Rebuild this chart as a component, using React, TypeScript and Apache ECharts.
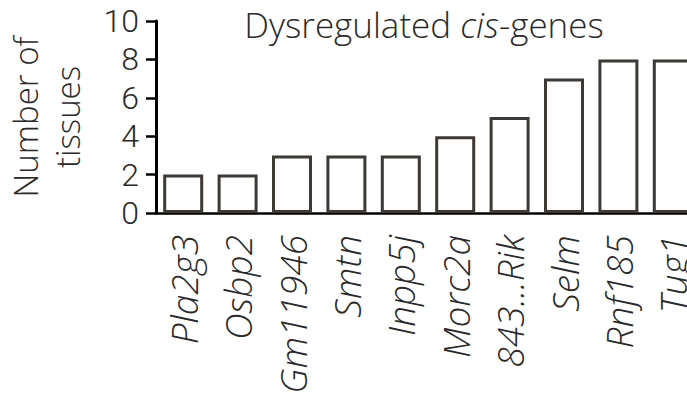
import React, { useEffect, useRef } from "react";
import * as echarts from "echarts";

const categories = ["Pla2g3", "Osbp2", "Gm11946", "Smtn", "Inpp5j", "Morc2a", "843...Rik", "Selm", "Rnf185", "Tug1"];
const tissueCounts = [2, 2, 3, 3, 3, 4, 5, 7, 8, 8];
const yTicks = { min: 0, max: 10, interval: 2 };

const FONT = "Open Sans";
const NUM_FONT = "Roboto";
const TEXT = "#2a2a2a";

export default function App() {
  const ref = useRef<HTMLDivElement>(null);
  useEffect(() => {
    document.body.style.margin = "0";
    const chart = echarts.init(ref.current!, null, { renderer: "svg" });
    chart.setOption({
      animation: false,
      backgroundColor: "#ffffff",
      textStyle: { fontFamily: FONT, fontWeight: 300 },
      grid: { left: 156, top: 21, width: 544, height: 192, containLabel: false, outerBoundsMode: "none" },
      graphic: [
        {
          type: "text",
          x: 424,
          y: 24,
          style: {
            text: "{a|Dysregulated }{b|cis}{a|-genes}",
            align: "center",
            verticalAlign: "middle",
            rich: {
              a: { fontFamily: FONT, fontWeight: 300, fontSize: 35, lineHeight: 35, fill: TEXT },
              b: { fontFamily: FONT, fontWeight: 300, fontStyle: "italic", fontSize: 35, lineHeight: 35, fill: TEXT },
            },
          },
        },
      ],
      xAxis: {
        type: "category",
        data: categories,
        boundaryGap: true,
        axisLine: { lineStyle: { color: "#000", width: 2.5 } },
        axisTick: { alignWithLabel: true, length: 11, lineStyle: { color: "#000", width: 2.5 } },
        axisLabel: {
          rotate: 90,
          margin: 22,
          interval: 0,
          fontSize: 37,
          lineHeight: 37,
          fontStyle: "italic",
          fontFamily: FONT,
          fontWeight: 300,
          color: TEXT,
        },
      },
      yAxis: {
        type: "value",
        min: yTicks.min,
        max: yTicks.max,
        interval: yTicks.interval,
        name: "Number of\ntissues",
        nameLocation: "middle",
        nameRotate: 90,
        nameGap: 68,
        nameTextStyle: { fontSize: 33, lineHeight: 42, color: TEXT, fontFamily: FONT, fontWeight: 300 },
        splitLine: { show: false },
        axisLine: { show: true, lineStyle: { color: "#000", width: 3 } },
        axisTick: { show: true, length: 10, lineStyle: { color: "#000", width: 2.5 } },
        axisLabel: { fontSize: 32, lineHeight: 32, margin: 17, color: TEXT, fontFamily: NUM_FONT, fontWeight: 300 },
      },
      series: [
        {
          type: "bar",
          data: tissueCounts,
          barWidth: 40,
          itemStyle: { color: "#ffffff", borderColor: "#3d3935", borderWidth: 3 },
        },
      ],
    });
    return () => chart.dispose();
  }, []);
  return <div ref={ref} style={{ width: 687, height: 401 }} />;
}
